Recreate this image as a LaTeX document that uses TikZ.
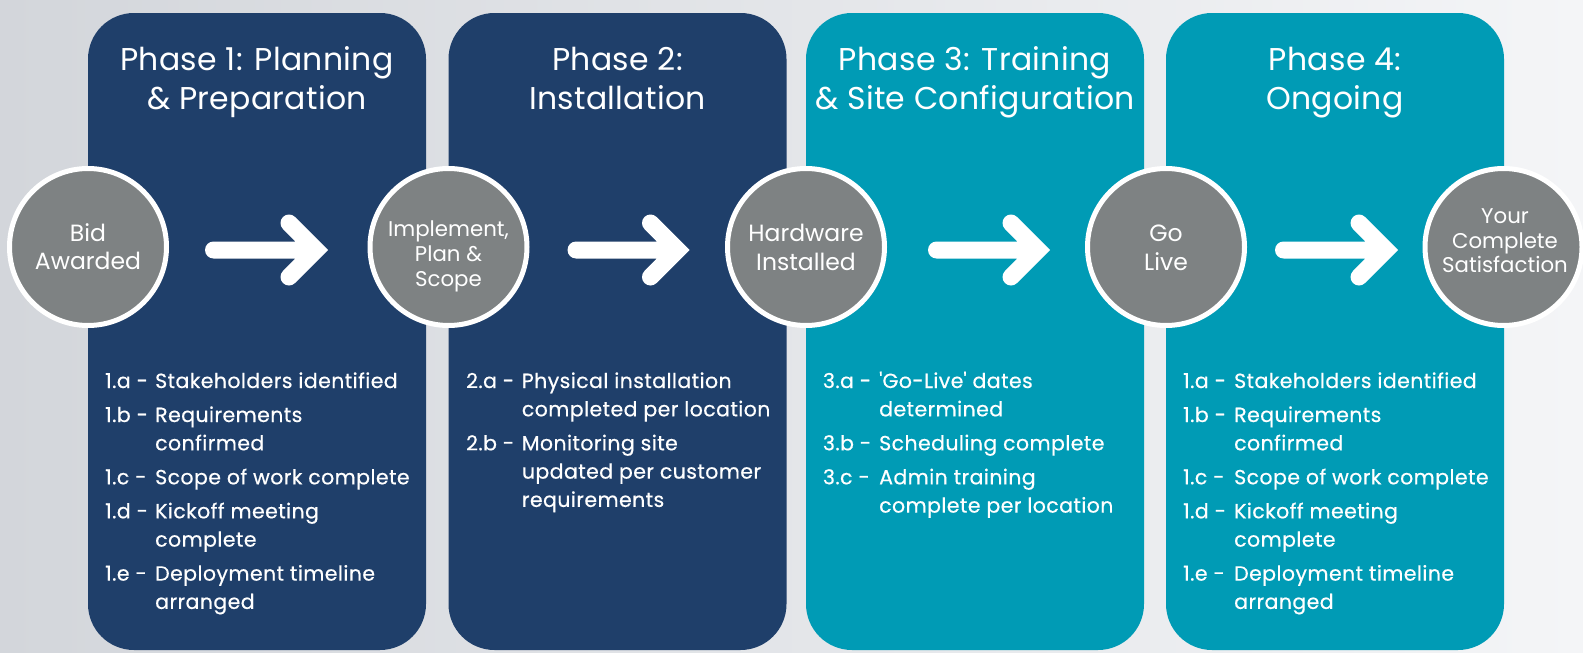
\documentclass[tikz,border=0pt]{standalone}
\usepackage{fontspec}
\setmainfont{Poppins}
\newfontfamily\itemfont{Poppins}[FakeBold=0.5, LetterSpace=2]
\newfontfamily\titlefont{Poppins}[LetterSpace=1]
\definecolor{navypanel}{HTML}{1F3F6A}
\definecolor{tealpanel}{HTML}{009BB5}
\definecolor{circgray}{HTML}{7E8283}
\definecolor{bgleft}{HTML}{D3D6DB}
\definecolor{bgright}{HTML}{F4F5F7}
\tikzset{
  panel/.style={rectangle, rounded corners=46pt, minimum width=338pt, minimum height=637pt, inner sep=0pt, draw=none},
  circ/.style={circle, fill=circgray, draw=white, line width=5pt, minimum size=157pt, inner sep=0pt},
  ctext/.style={text=white, anchor=base, inner sep=0pt, font=\fontsize{23.5}{27}\selectfont},
  csmall/.style={text=white, anchor=base, inner sep=0pt, font=\fontsize{21.3}{25}\selectfont},
  title/.style={text=white, anchor=base, inner sep=0pt, font=\titlefont\fontsize{31.5}{38}\selectfont},
  item/.style={text=white, anchor=base west, inner sep=0pt, font=\itemfont\fontsize{20.5}{28}\selectfont},
  arrowline/.style={draw=white, line width=17pt, line cap=round, line join=miter}
}
\begin{document}
\begin{tikzpicture}[x=1pt,y=-1pt]
\useasboundingbox (0,0) rectangle (1583,653);
\shade[left color=bgleft, right color=bgright] (0,0) rectangle (1583,653);

% panels
\node[panel, fill=navypanel] (p1) at (257,331.5) {};
\node[panel, fill=navypanel] (p2) at (617.5,331.5) {};
\node[panel, fill=tealpanel] (p3) at (975,331.5) {};
\node[panel, fill=tealpanel] (p4) at (1335,331.5) {};

% titles
\node[title] (t1a) at (257,70.7) {Phase 1: Planning};
\node[title] (t1b) at (257,109.5) {\& Preparation};
\node[title] (t2a) at (617.5,70.7) {Phase 2:};
\node[title] (t2b) at (617.5,109.5) {Installation};
\node[title] (t3a) at (975,70.7) {Phase 3: Training};
\node[title] (t3b) at (975,109.5) {\& Site Configuration};
\node[title] (t4a) at (1335,70.7) {Phase 4:};
\node[title] (t4b) at (1335,109.5) {Ongoing};

% arrows
\coordinate (a1s) at (213.5,250); \coordinate (a1t) at (316,250);
\coordinate (a2s) at (576,250);   \coordinate (a2t) at (677.5,250);
\coordinate (a3s) at (936.5,250); \coordinate (a3t) at (1038,250);
\coordinate (a4s) at (1283.5,250);\coordinate (a4t) at (1386,250);
\foreach \a in {1,2,3,4}{
  \draw[arrowline] (a\a s) -- (a\a t) ++(-27,-27) -- (a\a t) -- ++(-27,27);
}

% circles
\node[circ] (c1) at (88,247) {};
\node[circ] (c2) at (448.5,247) {};
\node[circ] (c3) at (806,247) {};
\node[circ] (c4) at (1166,247) {};
\node[circ] (c5) at (1503.5,247) {};

\node[ctext] (c1a) at (88,241.7) {Bid};
\node[ctext] (c1b) at (88,269.3) {Awarded};
\node[csmall] (c2a) at (448.5,236) {Implement,};
\node[csmall] (c2b) at (448.5,261) {Plan \&};
\node[csmall] (c2c) at (448.5,286) {Scope};
\node[ctext] (c3a) at (806,241.7) {Hardware};
\node[ctext] (c3b) at (806,270) {Installed};
\node[ctext] (c4a) at (1166,241.7) {Go};
\node[ctext] (c4b) at (1166,270) {Live};
\node[csmall] (c5a) at (1505,223.3) {Your};
\node[csmall] (c5b) at (1505,248.3) {Complete};
\node[csmall] (c5c) at (1505,272.7) {Satisfaction};

% phase 1 list
\node[item] (l1a) at (105,388) {1.a -};   \node[item] (x1a) at (155,388) {Stakeholders identified};
\node[item] (l1b) at (105,422) {1.b -};   \node[item] (x1b) at (155,422) {Requirements};
                                          \node[item] (x1b2) at (155,450.3) {confirmed};
\node[item] (l1c) at (105,484.3) {1.c -}; \node[item] (x1c) at (155,484.3) {Scope of work complete};
\node[item] (l1d) at (105,518.3) {1.d -}; \node[item] (x1d) at (155,518.3) {Kickoff meeting};
                                          \node[item] (x1d2) at (155,546.6) {complete};
\node[item] (l1e) at (105,580.6) {1.e -}; \node[item] (x1e) at (155,580.6) {Deployment timeline};
                                          \node[item] (x1e2) at (155,608.9) {arranged};

% phase 2 list
\node[item] (l2a) at (466,388) {2.a -};   \node[item] (x2a) at (521.7,388) {Physical installation};
                                          \node[item] (x2a2) at (521.7,416.3) {completed per location};
\node[item] (l2b) at (466,450.3) {2.b -}; \node[item] (x2b) at (521.7,450.3) {Monitoring site};
                                          \node[item] (x2b2) at (521.7,478.6) {updated per customer};
                                          \node[item] (x2b3) at (521.7,506.9) {requirements};

% phase 3 list
\node[item] (l3a) at (822.7,388) {3.a -};   \node[item] (x3a) at (879,388) {\textquotesingle Go-Live\textquotesingle\ dates};
                                            \node[item] (x3a2) at (879,416.3) {determined};
\node[item] (l3b) at (822.7,450.3) {3.b -}; \node[item] (x3b) at (879,450.3) {Scheduling complete};
\node[item] (l3c) at (822.7,484.3) {3.c -}; \node[item] (x3c) at (879,484.3) {Admin training};
                                            \node[item] (x3c2) at (879,512.6) {complete per location};

% phase 4 list
\node[item] (l4a) at (1183,388) {1.a -};   \node[item] (x4a) at (1234,388) {Stakeholders identified};
\node[item] (l4b) at (1183,422) {1.b -};   \node[item] (x4b) at (1234,422) {Requirements};
                                           \node[item] (x4b2) at (1234,450.3) {confirmed};
\node[item] (l4c) at (1183,484.3) {1.c -}; \node[item] (x4c) at (1234,484.3) {Scope of work complete};
\node[item] (l4d) at (1183,518.3) {1.d -}; \node[item] (x4d) at (1234,518.3) {Kickoff meeting};
                                           \node[item] (x4d2) at (1234,546.6) {complete};
\node[item] (l4e) at (1183,580.6) {1.e -}; \node[item] (x4e) at (1234,580.6) {Deployment timeline};
                                           \node[item] (x4e2) at (1234,608.9) {arranged};
\end{tikzpicture}
\end{document}
